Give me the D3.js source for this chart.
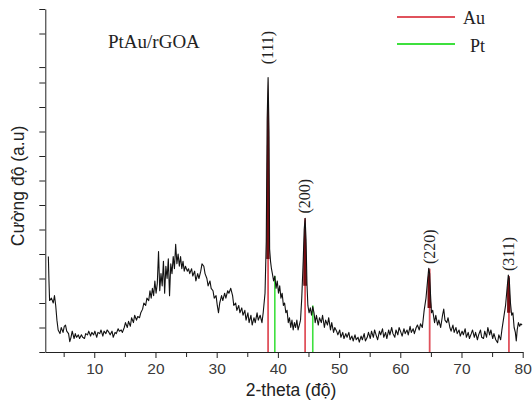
<!DOCTYPE html>
<html><head><meta charset="utf-8">
<script src="https://cdn.jsdelivr.net/npm/d3@7/dist/d3.min.js"></script>
<style>html,body{margin:0;padding:0;background:#fff;}svg{display:block;}</style>
</head><body><svg id="c" width="532" height="405"></svg>
<script>
// XRD scan of PtAu/rGOA: [2-theta (deg), intensity (a.u.)]
const scan = [
[2.5,3.9],[2.6,2.9],[2.7,2.1],[3.0,2.2],[3.3,2.0],[3.5,2.3],[3.7,1.9],[3.9,1.3],[4.1,0.9],[4.4,0.75],
[4.6,1.0],[4.9,0.8],[5.1,1.05],[5.3,1.1],[5.5,0.85],[5.8,0.75],[6.0,0.42],[6.2,0.6],[6.4,0.85],[6.7,0.55],
[6.9,0.75],[7.1,0.6],[7.4,0.7],[7.6,0.55],[7.9,0.7],[8.1,0.6],[8.4,0.55],[8.6,0.75],[8.9,0.7],[9.1,0.85],
[9.4,0.65],[9.6,0.8],[9.9,0.7],[10.1,0.85],[10.4,0.6],[10.6,0.8],[10.9,0.75],[11.1,0.9],[11.4,0.65],[11.6,0.85],
[11.9,0.75],[12.1,0.9],[12.4,0.8],[12.6,0.7],[12.9,0.85],[13.1,0.6],[13.4,0.8],[13.6,0.75],[13.9,0.95],[14.1,0.85],
[14.4,0.9],[14.6,0.8],[14.9,1.0],[15.1,1.2],[15.4,1.0],[15.6,1.25],[15.9,1.05],[16.1,1.4],[16.4,1.2],[16.6,1.5],
[16.9,1.3],[17.1,1.45],[17.4,1.4],[17.6,1.6],[17.9,1.75],[18.1,2.0],[18.4,1.9],[18.6,2.2],[18.9,2.1],[19.1,2.5],
[19.3,2.2],[19.5,2.6],[19.7,2.3],[19.9,2.9],[20.1,2.4],[20.3,2.8],[20.5,4.1],[20.7,2.5],[20.9,3.2],[21.1,2.7],
[21.3,3.7],[21.5,2.4],[21.7,3.5],[21.9,3.0],[22.1,3.8],[22.3,2.3],[22.5,3.6],[22.7,3.2],[22.9,3.9],[23.1,3.4],
[23.3,4.4],[23.5,3.6],[23.7,4.0],[23.9,3.5],[24.1,3.9],[24.3,3.4],[24.5,3.7],[24.7,3.3],[24.9,3.5],[25.2,3.3],
[25.4,3.4],[25.6,3.2],[25.9,3.4],[26.1,3.1],[26.4,3.3],[26.6,2.9],[26.9,3.2],[27.1,3.0],[27.4,3.3],[27.6,3.6],
[27.9,3.5],[28.1,3.2],[28.4,3.0],[28.6,2.7],[28.9,2.9],[29.1,2.6],[29.4,2.5],[29.6,2.2],[29.9,2.3],[30.1,1.9],
[30.3,1.6],[30.5,2.0],[30.8,2.3],[31.0,2.1],[31.3,2.4],[31.5,2.2],[31.8,2.5],[32.0,2.4],[32.3,2.6],[32.6,2.3],
[32.8,1.9],[33.1,2.0],[33.3,1.7],[33.6,1.9],[33.8,1.6],[34.1,1.8],[34.3,1.5],[34.6,1.7],[34.8,1.3],[35.1,1.6],
[35.3,1.2],[35.6,1.5],[35.8,1.1],[36.1,1.4],[36.3,1.2],[36.6,1.6],[36.8,1.3],[37.1,1.5],[37.4,1.2],[37.6,1.6],
[37.9,2.4],[38.1,4.5],[38.25,9.5],[38.4,11.2],[38.55,9.0],[38.65,4.2],[38.8,3.7],[38.95,3.4],[39.1,3.2],[39.3,2.9],
[39.5,3.1],[39.7,2.6],[39.9,2.9],[40.1,2.4],[40.3,2.7],[40.5,2.2],[40.7,2.4],[40.9,1.9],[41.1,2.0],[41.3,1.6],
[41.5,1.7],[41.7,1.2],[41.9,1.4],[42.1,1.0],[42.3,1.3],[42.5,0.9],[42.7,1.2],[42.9,1.0],[43.1,1.3],[43.3,0.9],
[43.5,1.1],[43.7,1.3],[43.9,2.2],[44.15,3.8],[44.3,5.0],[44.45,5.46],[44.6,4.6],[44.75,2.8],[44.9,1.9],[45.1,1.6],
[45.3,1.8],[45.5,1.5],[45.7,1.85],[45.9,1.6],[46.1,1.2],[46.3,1.5],[46.6,1.1],[46.8,1.4],[47.1,1.2],[47.3,1.5],
[47.6,1.0],[47.8,1.3],[48.1,1.1],[48.3,1.4],[48.6,0.9],[48.8,1.2],[49.1,0.8],[49.3,1.0],[49.6,0.85],[49.8,0.7],
[50.1,0.9],[50.3,0.6],[50.6,0.8],[50.8,0.55],[51.1,0.75],[51.3,0.6],[51.6,0.8],[51.8,0.5],[52.1,0.65],[52.3,0.45],
[52.6,0.7],[52.8,0.5],[53.1,0.6],[53.3,0.4],[53.6,0.65],[53.8,0.5],[54.1,0.75],[54.3,0.45],[54.6,0.6],[54.8,0.8],
[55.1,0.55],[55.3,0.85],[55.6,0.6],[55.8,0.9],[56.1,0.65],[56.3,0.5],[56.6,0.85],[56.8,0.7],[57.1,0.95],[57.3,0.6],
[57.6,0.8],[57.8,0.55],[58.1,0.9],[58.3,0.7],[58.6,1.0],[58.8,0.75],[59.1,0.6],[59.3,0.9],[59.6,0.7],[59.8,1.0],
[60.1,0.8],[60.3,0.65],[60.6,0.95],[60.8,0.75],[61.1,0.9],[61.3,0.7],[61.6,1.05],[61.8,0.8],[62.1,0.95],[62.3,0.75],
[62.6,1.0],[62.8,1.1],[63.1,0.9],[63.3,1.15],[63.6,1.0],[63.9,1.7],[64.2,2.2],[64.45,2.9],[64.65,3.42],[64.8,3.2],
[64.95,2.3],[65.1,1.6],[65.3,1.7],[65.6,1.2],[65.8,1.5],[66.1,1.1],[66.3,1.3],[66.6,1.0],[66.9,1.5],[67.1,1.75],
[67.3,1.3],[67.6,1.2],[67.8,1.4],[68.1,1.0],[68.3,0.85],[68.6,1.1],[68.8,0.8],[69.1,1.0],[69.3,0.75],[69.6,0.9],
[69.8,0.65],[70.1,0.85],[70.3,0.7],[70.6,0.95],[70.8,0.6],[71.1,0.8],[71.3,0.55],[71.6,0.75],[71.8,0.9],[72.1,0.6],
[72.3,0.8],[72.6,0.5],[72.8,0.7],[73.1,0.9],[73.3,0.6],[73.6,0.55],[73.8,0.85],[74.1,0.6],[74.3,1.0],[74.6,0.7],
[74.8,0.9],[75.1,0.55],[75.3,0.75],[75.6,0.5],[75.9,0.38],[76.1,0.7],[76.4,0.5],[76.6,0.9],[76.9,1.4],[77.2,1.9],
[77.45,2.6],[77.65,3.14],[77.8,3.0],[78.0,2.0],[78.2,1.5],[78.4,1.6],[78.6,1.0],[78.8,0.8],[78.95,0.45],[79.1,0.9],
[79.3,1.2],[79.5,1.05],[79.7,1.15],[79.9,1.1]
];

// Reference patterns
const auPos = [38.4, 44.45, 64.8, 77.75];
const auTop = [10.16, 5.46, 3.4, 3.1];
const auBase = [3.8, 2.7, 1.8, 1.6];
const auLabels = ["(111)", "(200)", "(220)", "(311)"];
const ptPos = [39.5, 45.7];
const ptTop = [3.1, 1.9];

const xMajor = [10, 20, 30, 40, 50, 60, 70, 80];
const xMinor = [5, 15, 25, 35, 45, 55, 65, 75];
const yTicks = [0, 1, 2, 3, 4, 5, 6, 7, 8, 9, 10, 11, 11.63, 13, 14];

const legendItems = ["Au", "Pt"];
const sampleName = "PtAu/rGOA";

const svg = d3.select("#c");
const x = d3.scaleLinear().domain([2, 80]).range([45.3, 522.7]);
const y = d3.scaleLinear().domain([0, 14]).range([352, 9]);

const RED = "#e0525c", GREEN = "#3ee03e", DARK = "#7a0d12";

// sticks
svg.append("g").selectAll("line").data(d3.zip(ptPos, ptTop)).join("line")
  .attr("x1", d => x(d[0])).attr("x2", d => x(d[0]))
  .attr("y1", y(0)).attr("y2", d => y(d[1]))
  .attr("stroke", GREEN).attr("stroke-width", 1.6);
svg.append("g").selectAll("line").data(d3.zip(auPos, auTop)).join("line")
  .attr("x1", d => x(d[0])).attr("x2", d => x(d[0]))
  .attr("y1", y(0)).attr("y2", d => y(d[1]))
  .attr("stroke", RED).attr("stroke-width", 1.8);

// dark fill inside Au peaks
auPos.forEach((p, i) => {
  const seg = scan.filter(d => Math.abs(d[0] - p) <= 0.35);
  svg.append("path").datum(seg)
    .attr("d", d3.area().x(d => x(d[0])).y0(y(auBase[i])).y1(d => y(Math.max(d[1], auBase[i]))))
    .attr("fill", DARK);
});

// curve
svg.append("path").datum(scan)
  .attr("d", d3.line().x(d => x(d[0])).y(d => y(d[1])))
  .attr("fill", "none").attr("stroke", "#111").attr("stroke-width", 1.1)
  .attr("stroke-linejoin", "round");

// axes
const gx = svg.append("g").attr("transform", `translate(0,${y(0)})`)
  .call(d3.axisBottom(x).tickValues(xMajor).tickSize(6).tickPadding(5).tickSizeOuter(0));
svg.append("g").attr("transform", `translate(0,${y(0)})`)
  .call(d3.axisBottom(x).tickValues(xMinor).tickSize(5).tickFormat("").tickSizeOuter(0))
  .select(".domain").remove();
gx.selectAll("text").attr("font-family", "Liberation Sans, Arial, sans-serif")
  .attr("font-size", 15.5).attr("fill", "#3a3a3a");
const gy = svg.append("g").attr("transform", `translate(${x(2)},0)`)
  .call(d3.axisLeft(y).tickValues(yTicks).tickSize(6).tickFormat("").tickSizeOuter(0));
svg.selectAll(".domain").attr("stroke", "#222");
svg.selectAll(".tick line").attr("stroke", "#222");

// axis titles
svg.append("text").attr("transform", "translate(24,186) rotate(-90)")
  .attr("text-anchor", "middle").attr("font-family", "Liberation Sans, Arial, sans-serif")
  .attr("font-size", 17.5).attr("fill", "#222").text("Cường độ (a.u)");
svg.append("text").attr("x", 291).attr("y", 396)
  .attr("text-anchor", "middle").attr("font-family", "Liberation Sans, Arial, sans-serif")
  .attr("font-size", 17.5).attr("fill", "#222").text("2-theta (độ)");

// sample name
svg.append("text").attr("x", 108).attr("y", 48)
  .attr("font-family", "Liberation Serif, Times New Roman, serif")
  .attr("font-size", 19).attr("fill", "#222").text(sampleName);

// peak labels
auPos.forEach((p, i) => {
  const cy = y(auTop[i] > 8 ? 11.2 : auTop[i]) - (i === 0 ? 30 : 22);
  svg.append("text").attr("transform", `translate(${x(p) + 5},${cy}) rotate(-90)`)
    .attr("text-anchor", "middle")
    .attr("font-family", "Liberation Serif, Times New Roman, serif")
    .attr("font-size", 16).attr("fill", "#222").text(auLabels[i]);
});

// legend
const lg = svg.append("g");
[RED, GREEN].forEach((c, i) => {
  lg.append("line").attr("x1", 397).attr("x2", 455)
    .attr("y1", 17 + i * 27).attr("y2", 17 + i * 27)
    .attr("stroke", c).attr("stroke-width", 2);
  lg.append("text").attr("x", i === 0 ? 463 : 470).attr("y", 24 + i * 28)
    .attr("font-family", "Liberation Serif, Times New Roman, serif")
    .attr("font-size", 18).attr("fill", "#222").text(legendItems[i]);
});
</script></body></html>
